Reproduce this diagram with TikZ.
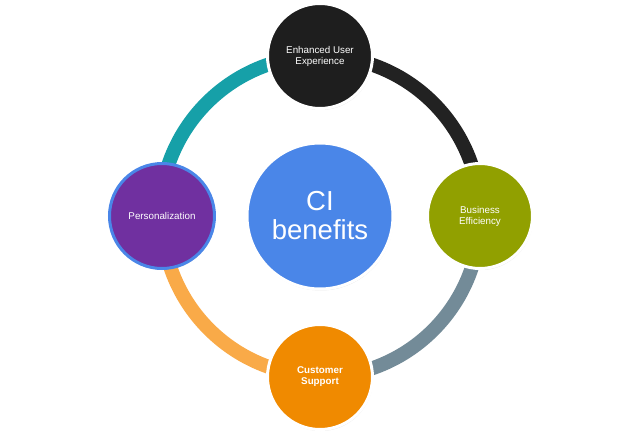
\documentclass[tikz,border=0pt]{standalone}
\usepackage{fontspec}
\setmainfont{Liberation Sans}
\usetikzlibrary{shadows, backgrounds}

\definecolor{hubblue}{HTML}{4A86E8}
\definecolor{uxblack}{HTML}{1E1E1E}
\definecolor{bizolive}{HTML}{91A000}
\definecolor{suppo}{HTML}{F08A00}
\definecolor{perspurple}{HTML}{7030A0}
\definecolor{ringteal}{HTML}{16A0A8}
\definecolor{ringblack}{HTML}{222222}
\definecolor{ringgray}{HTML}{738B98}
\definecolor{ringorange}{HTML}{F9AA48}

\begin{document}
\begin{tikzpicture}[
    x=1pt, y=1pt,
    hub/.style={circle, minimum size=146pt, inner sep=0pt, draw=white, line width=3pt, fill=hubblue, text=white, align=center, font=\fontsize{27.5}{29}\selectfont, drop shadow={opacity=0.25, shadow xshift=0.6pt, shadow yshift=-1.5pt}},
    benefit/.style={circle, minimum size=105pt, inner sep=0pt, draw=white, line width=3pt, text=white, align=center, font=\fontsize{9.8}{11}\selectfont, drop shadow={opacity=0.25, shadow xshift=0.6pt, shadow yshift=-1.5pt}},
    ringseg/.style={line width=14pt},
]
    \useasboundingbox (-320,-218) rectangle (320,216);

    % Centre
    \node (hub) [hub] at (0,0) {CI\\benefits};

    % Benefits round the ring
    \node (ux) [benefit, fill=uxblack] at (90:160) {Enhanced User\\Experience};
    \node (biz) [benefit, fill=bizolive] at (0:160) {Business\\Efficiency};
    \node (support) [benefit, fill=suppo, font=\fontsize{9.8}{11}\selectfont\bfseries] at (270:161) {Customer\\Support};
    \node (pers) [benefit, fill=perspurple, draw=hubblue] at (180:158) {Personalization};

    % Ring segments
    \begin{scope}[on background layer]
        \draw [ringseg, ringteal] (ux.center) arc[start angle=90, end angle=180, radius=160];
        \draw [ringseg, ringorange] (pers.center) arc[start angle=180, end angle=270, radius=160];
        \draw [ringseg, ringgray] (support.center) arc[start angle=270, end angle=360, radius=160];
        \draw [ringseg, ringblack] (biz.center) arc[start angle=0, end angle=90, radius=160];
    \end{scope}

\end{tikzpicture}
\end{document}
